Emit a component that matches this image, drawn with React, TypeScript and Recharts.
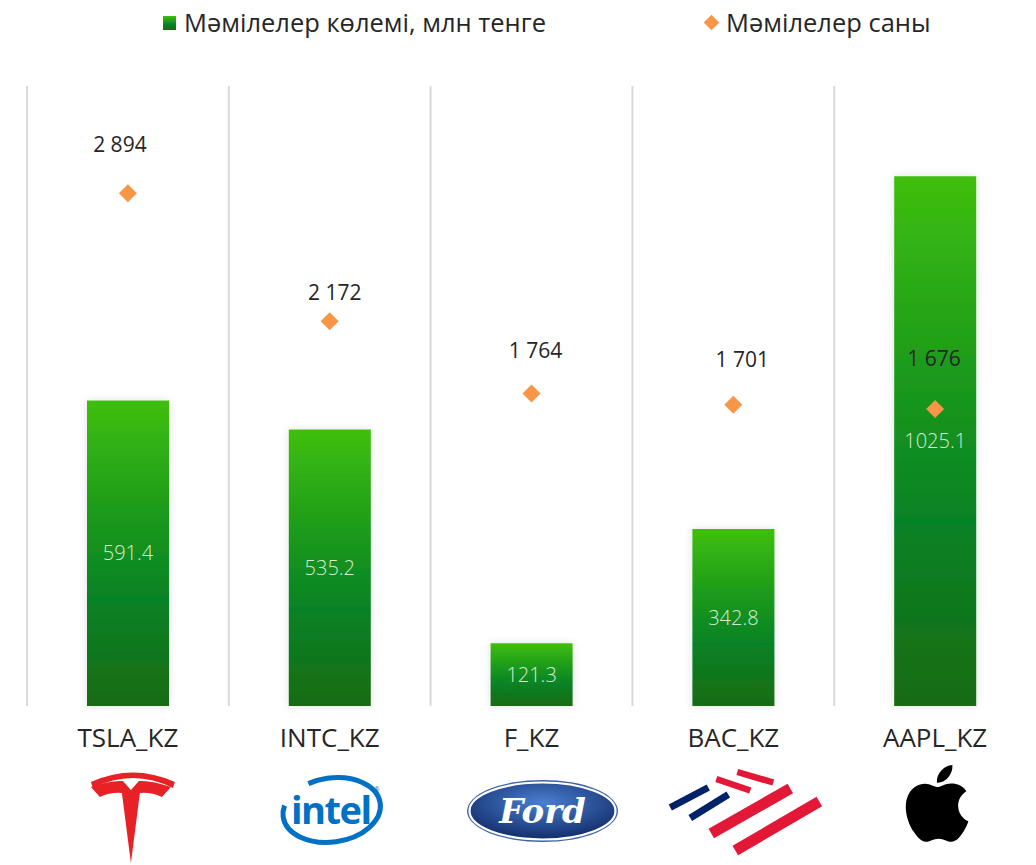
import { ComposedChart, Bar, Scatter, XAxis, YAxis, CartesianGrid, Legend, LabelList } from 'recharts'

const tickers = ['TSLA_KZ', 'INTC_KZ', 'F_KZ', 'BAC_KZ', 'AAPL_KZ']
const volumes = [591.4, 535.2, 121.3, 342.8, 1025.1]
const counts = [2894, 2172, 1764, 1701, 1676]

const data = tickers.map((t, i) => ({ ticker: t, volume: volumes[i], count: counts[i] }))

const FONT = '"Open Sans", "Noto Sans", sans-serif'
const TEXT = '#262626'

// count labels were nudged by hand in the original
const countLabelLift = [49, 29, 44, 46, 51]
const countLabelShift = [-8, 5, 4, 9, -1]

const fmtThousands = (v: number) => String(v).replace(/\B(?=(\d{3})+(?!\d))/g, ' ')

// logos, drawn relative to the band centre and the axis line
function TeslaLogo() {
  return (
    <g transform="translate(3,0)" fill="#e82127">
      <path d="M -40,76 Q 2,57 44,76 L 42,82 Q 2,62 -38,82 Z" />
      <path d="M -40,81 Q -20,74 -8,75 L 0,84 L 8,75 Q 20,74 40,81 L 31,91 Q 20,86 9,87 L 0,157 L -9,87 Q -20,86 -31,91 Z" />
    </g>
  )
}

function IntelLogo() {
  return (
    <g transform="translate(2,0)">
      <ellipse cx={0} cy={104} rx={49} ry={32} fill="none" stroke="#0071c5" strokeWidth={5}
        strokeDasharray="140 33 1000" transform="rotate(-8 0 104)" />
      <text x={-1} y={118} textAnchor="middle" fontFamily={FONT} fontWeight={700} fontSize={38}
        letterSpacing={-1.5} fill="#0071c5">intel</text>
      <text x={42} y={86} fontFamily={FONT} fontSize={7} fill="#0071c5">®</text>
    </g>
  )
}

function FordLogo() {
  return (
    <g transform="translate(11,0)">
      <ellipse cx={0} cy={105} rx={75.5} ry={31} fill="#3d63a8" />
      <ellipse cx={0} cy={105} rx={73} ry={28.5} fill="url(#fordFill)" stroke="#fff" strokeWidth={2.2} />
      <text x={0} y={117} textAnchor="middle" fontFamily='"DejaVu Serif", serif' fontStyle="italic"
        fontWeight={700} fontSize={34} fill="#fff">Ford</text>
    </g>
  )
}

function BofaLogo() {
  return (
    <g strokeLinecap="butt">
      <line x1={-63} y1={101.5} x2={-25} y2={81.5} stroke="#012169" strokeWidth={7} />
      <line x1={-43} y1={112} x2={-5} y2={88.5} stroke="#012169" strokeWidth={7} />
      <line x1={-17} y1={73} x2={17} y2={84.5} stroke="#e31837" strokeWidth={6.5} />
      <line x1={4} y1={66} x2={40} y2={76.5} stroke="#e31837" strokeWidth={6.5} />
      <line x1={-22} y1={127.5} x2={57} y2={82.5} stroke="#e31837" strokeWidth={11} />
      <line x1={2} y1={144.5} x2={86} y2={95.5} stroke="#e31837" strokeWidth={11} />
    </g>
  )
}

function AppleLogo() {
  return (
    <g transform="translate(-36.4,59) scale(3.2)" fill="#000">
      <path d="M12.152 6.896c-.948 0-2.415-1.078-3.960-1.040-2.040.027-3.910 1.183-4.961 3.014-2.117 3.675-.546 9.103 1.519 12.090 1.013 1.454 2.208 3.090 3.792 3.039 1.520-.065 2.090-.987 3.935-.987 1.831 0 2.350.987 3.960.948 1.637-.026 2.676-1.480 3.676-2.948 1.156-1.688 1.636-3.325 1.662-3.415-.039-.013-3.182-1.221-3.220-4.857-.026-3.040 2.480-4.494 2.597-4.559-1.429-2.090-3.623-2.324-4.390-2.376-2-.156-3.675 1.090-4.610 1.090zM15.530 3.830c.843-1.012 1.400-2.427 1.245-3.830-1.207.052-2.662.805-3.532 1.818-.780.896-1.454 2.338-1.273 3.714 1.338.104 2.715-.688 3.559-1.701" />
    </g>
  )
}

const logos: Record<string, () => JSX.Element> = {
  TSLA_KZ: TeslaLogo,
  INTC_KZ: IntelLogo,
  F_KZ: FordLogo,
  BAC_KZ: BofaLogo,
  AAPL_KZ: AppleLogo,
}

function TickerTick(props: any) {
  const { x, y, payload } = props
  const Logo = logos[payload.value]
  return (
    <g transform={`translate(${x},${y})`}>
      <text x={0} y={31} textAnchor="middle" dominantBaseline="central" fontFamily={FONT}
        fontSize={26} fill={TEXT}>{payload.value}</text>
      {Logo && <Logo />}
    </g>
  )
}

function Diamond(props: any) {
  const { cx, cy } = props
  const r = 9
  return <polygon points={`${cx},${cy - r} ${cx + r},${cy} ${cx},${cy + r} ${cx - r},${cy}`} fill="#f79646" />
}

function CountLabel(props: any) {
  const { x, y, width, height, value, index } = props
  const cx = x + (width || 0) / 2 + (countLabelShift[index] ?? 0)
  const cy = y + (height || 0) / 2 - (countLabelLift[index] ?? 49)
  return (
    <text x={cx} y={cy} textAnchor="middle" dominantBaseline="central" fontFamily={FONT}
      fontSize={21} fill={TEXT}>{fmtThousands(value)}</text>
  )
}

function LegendContent() {
  return (
    <div style={{ position: 'relative', width: 1036, height: 46, fontFamily: FONT, fontSize: 25.5, color: TEXT }}>
      <div style={{ position: 'absolute', left: 163, top: 16, width: 13, height: 14,
        background: 'linear-gradient(#3fbf0f, #068226 60%, #1a6b12)' }} />
      <span style={{ position: 'absolute', left: 184, top: 6, lineHeight: '32px', whiteSpace: 'nowrap' }}>
        Мәмілелер көлемі, млн тенге
      </span>
      <div style={{ position: 'absolute', left: 706, top: 17, width: 11, height: 11, background: '#f79646',
        transform: 'rotate(45deg)' }} />
      <span style={{ position: 'absolute', left: 726, top: 6, lineHeight: '32px', whiteSpace: 'nowrap' }}>
        Мәмілелер саны
      </span>
    </div>
  )
}

export default function App() {
  return (
    <div style={{ position: 'absolute', left: 0, top: 0, width: 1036, height: 865, background: '#fff' }}>
      <ComposedChart width={1036} height={865} data={data} margin={{ top: 86, right: 0, bottom: 0, left: 27 }}>
        <defs>
          <linearGradient id="barFill" x1="0" y1="0" x2="0" y2="1">
            <stop offset="0%" stopColor="#3fbf0f" />
            <stop offset="35%" stopColor="#1e9c1a" />
            <stop offset="65%" stopColor="#068226" />
            <stop offset="100%" stopColor="#1a6b12" />
          </linearGradient>
          <radialGradient id="fordFill" cx="50%" cy="35%" r="65%">
            <stop offset="0%" stopColor="#4a7fd0" />
            <stop offset="100%" stopColor="#122d6b" />
          </radialGradient>
          <filter id="barShadow" x="-20%" y="-10%" width="140%" height="120%">
            <feDropShadow dx={0} dy={0} stdDeviation={4} floodColor="#000" floodOpacity={0.12} />
          </filter>
        </defs>
        <CartesianGrid
          horizontal={false}
          stroke="#d9d9d9"
          strokeWidth={2}
          verticalCoordinatesGenerator={({ offset }: any) =>
            tickers.map((_, i) => offset.left + (i * offset.width) / tickers.length)
          }
        />
        <XAxis dataKey="ticker" axisLine={false} tickLine={false} tickSize={0} tickMargin={0}
          height={159} interval={0} tick={<TickerTick />} />
        <YAxis yAxisId="vol" hide domain={[0, 1200]} />
        <YAxis yAxisId="cnt" hide orientation="right" domain={[0, 3500]} />
        <Legend verticalAlign="middle" align="center" layout="horizontal" content={<LegendContent />}
          wrapperStyle={{ top: 0, left: 0, width: 1036, height: 46 }} />
        <Bar yAxisId="vol" dataKey="volume" barSize={82} fill="url(#barFill)" filter="url(#barShadow)"
          isAnimationActive={false}>
          <LabelList dataKey="volume" position="center" fill="#d5ecd5" fontFamily={FONT} fontSize={20}
            fontWeight={300} />
        </Bar>
        <Scatter yAxisId="cnt" dataKey="count" shape={<Diamond />} isAnimationActive={false}>
          <LabelList dataKey="count" content={<CountLabel />} />
        </Scatter>
      </ComposedChart>
    </div>
  )
}
